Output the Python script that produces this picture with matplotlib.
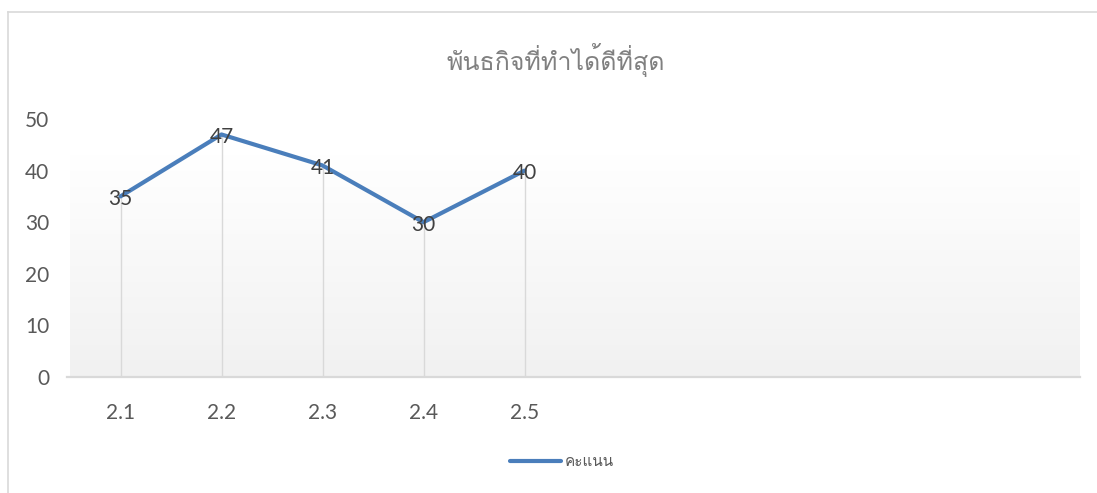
import matplotlib
matplotlib.use("Agg")
import matplotlib.pyplot as plt
import numpy as np
from matplotlib.lines import Line2D

categories = ["2.1", "2.2", "2.3", "2.4", "2.5", "", "", "", "", ""]
scores = [35, 47, 41, 30, 40]
series_name = "คะแนน"
title = "พันธกิจที่ทำได้ดีที่สุด"
yticks = [0, 10, 20, 30, 40, 50]

THAI = ["Loma", "Noto Sans Thai Looped", "DejaVu Sans"]
plt.rcParams['font.family'] = ["Lato", "Loma", "DejaVu Sans"]

W, H = 1097, 493
fig = plt.figure(figsize=(W/100, H/100), dpi=100)

# chart border
fig.add_artist(Line2D([8/W, 8/W], [0, 1-12/H], color="#d9d9d9", lw=1.2))
fig.add_artist(Line2D([8/W, 1], [1-12/H, 1-12/H], color="#d9d9d9", lw=1.2))

ax = fig.add_axes([70/W, 1-377/H, (1080-70)/W, (377-119)/H])
ax.set_xlim(-0.5, len(categories)-0.5)
ax.set_ylim(0, 50)

# gradient background
grad = np.ones((256, 1, 3))
t = np.linspace(0, 1, 256)  # 0 bottom -> 1 top
top_white = 0.86
vals = np.where(t >= top_white, 1.0, 0.945 + (1.0-0.945)*(t/top_white))
grad[:, 0, :] = vals[:, None]
ax.imshow(grad, extent=[-0.5, len(categories)-0.5, 0, 50], origin='lower',
          aspect='auto', zorder=0, interpolation='bilinear')

x = np.arange(len(scores))
# drop lines
ax.vlines(x, 0, scores, color="#d9d9d9", lw=1.0, zorder=1)
ax.plot(x, scores, color="#4a7ebb", lw=3.0, solid_capstyle='round',
        solid_joinstyle='round', zorder=3, label=series_name)
for xi, v in zip(x, scores):
    ax.annotate(str(v), (xi, v), xytext=(0, -2), textcoords='offset points',
                ha='center', va='center', fontsize=15, color="#404040", zorder=4)

for s in ax.spines.values():
    s.set_visible(False)
ax.axhline(0, color="#d9d9d9", lw=1.6, zorder=2, xmin=-3/1010, clip_on=False)

ax.set_yticks(yticks)
ax.set_yticklabels([str(v) for v in yticks])
ax.set_xticks(np.arange(len(categories)))
ax.set_xticklabels(categories)
ax.tick_params(axis='both', length=0, labelsize=15, labelcolor="#595959")
ax.tick_params(axis='y', pad=15)
ax.tick_params(axis='x', pad=19)

fig.text(556/W, 1-60/H, title, ha='center', va='center', fontsize=18,
         color="#808080", family=THAI)

# legend
fig.add_artist(Line2D([510/W, 561/W], [1-461/H, 1-461/H], color="#4a7ebb", lw=3.0,
                      solid_capstyle='round'))
fig.text(565/W, 1-462/H, series_name, ha='left', va='center', fontsize=11,
         color="#595959", family=THAI)

fig.savefig("out.png", dpi=100)
